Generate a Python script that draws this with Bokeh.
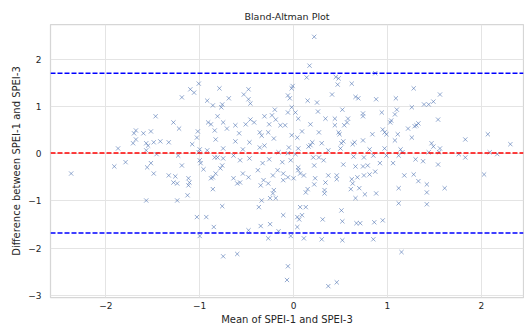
from bokeh.plotting import figure
from bokeh.models import Span, FixedTicker, CustomJSTickFormatter, ColumnDataSource
from bokeh.embed import file_html
from bokeh.resources import INLINE

# Mean of SPEI-1 and SPEI-3 (x) and their difference (y)
mean_vals = [
    0.22, 0.17, 0.87, 0.45, 0.48, 0.47, 0.62, 0.14, -0.01, -0.02, 1.28, 0.41, 0.66, 0.69, 0.88, 1.09,
    1.56, 1.49, 1.44, 1.39, 1.26, 0.15, 0.25, -0.06, -0.04, -0.02, -0.06, 0.02, 0.26, 0.52, 0.74, 0.74,
    0.94, 1.10, 1.08, 1.04, 1.03, 0.05, 0.34, 0.44, 0.58, 0.57, 0.54, 0.44, 1.54, 0.18, -0.09, 1.33,
    1.31, 1.29, 1.22, 0.95, 0.09, 0.27, 0.48, 0.49, 0.84, 0.97, 0.99, 1.11, 1.26, 2.07, 1.83, 2.31,
    -0.02, 0.04, 0.20, 0.30, 0.18, 0.16, 0.51, 0.53, 0.65, 0.63, 0.74, 1.08, 1.14, 1.47, 1.49, 1.56,
    -0.05, 0.05, 0.37, 0.50, 0.81, 0.97, -0.06, 0.02, 2.09, 2.17,
    -1.19, -1.10, -1.06, -1.01, -0.79, -0.69, -0.92, -0.86, -0.76, -0.77, -0.53, -0.48, -0.48, -0.46,
    -1.47, -1.28, -1.22, -0.91, -0.88, -0.81, -0.75, -0.84, -0.71, -0.62, -0.58, -0.51, -0.46, -0.42,
    -0.36, -0.34, -0.27, -0.31, -0.23, -0.26, -0.19, -0.20, -0.21, -0.31, -0.62, -0.83, -0.47, -0.36,
    -0.54, -0.75, -1.02, -1.03, -1.08, -1.68, -1.70, -1.60, -1.52, -1.68, -1.71, -1.57, -1.55, -1.49,
    -1.42, -1.33, -1.87, -1.00, -0.14,
    -2.37, -1.91, -1.79, -1.57, -1.46, -1.52, -1.56, -1.49, -1.33, -1.26, -1.24, -1.28, -1.19, -1.23,
    -1.12, -1.11, -1.12, -1.13, -1.24, -1.57, -1.00, -0.99, -0.96, -1.01, -0.84, -0.81, -0.75, -0.76,
    -0.78, -0.83, -0.86, -0.88, -0.86, -0.64, -0.57, -0.47, -0.54, -0.64, -0.60, -0.57, -0.48, -0.38,
    -0.33, -0.26, -0.35, -0.32, -0.27, -0.22, -0.21, -0.22, -0.19, -0.25, -0.34, -0.17, -0.12, -0.11,
    -0.11, -0.16, -0.92, -0.76, -1.03, -0.93, -0.85, -0.48, -0.35, -0.25, -0.37, -0.11, -0.16, -0.27,
    -1.00, -0.75, -0.60,
    0.64, 0.75, 0.85, 0.99, 1.12, 0.53, 0.66, 0.74, 0.79, 0.92, 1.06, 1.30, 1.38, 1.54, 1.83, 1.76,
    2.03, 1.18, 1.28, 1.33, 1.42, 1.42, 1.61, 1.12, 1.12, 1.42, 0.88, 0.76, 0.70, 0.66, 0.61, 0.63,
    0.62, 0.68, 0.75, 0.81, 0.87, 0.46, 0.46, 0.37, 0.34, 0.33, 0.33, 0.23, 0.22, 0.15, 0.13, 0.11,
    0.07, 0.00, -0.06, -0.03, 0.05, 0.05, 0.21, 0.27, 0.22, 0.32, 0.07, 0.13, 0.09, 0.04, 0.06, 0.31,
    0.51, 0.52, 0.67, 0.71, 0.86, 0.95, 0.04, -0.03, 0.11, 0.30, 0.52, 0.85, 1.15, -0.06, -0.07, 0.37,
    0.46, 1.16, 1.44, 1.55,
]
diff_vals = [
    2.47, 1.86, 1.70, 1.62, 1.59, 1.46, 1.48, 1.61, 1.43, 1.38, 1.38, 1.25, 1.20, 1.17, 1.15, 1.17,
    1.25, 1.10, 1.04, 1.04, 0.98, 1.12, 1.08, 1.23, 1.17, 0.98, 0.87, 0.87, 0.89, 0.93, 0.85, 0.79,
    0.87, 0.93, 0.83, 0.70, 0.66, 0.74, 0.74, 0.74, 0.74, 0.66, 0.60, 0.60, 0.72, 0.62, 0.60, 0.64,
    0.60, 0.58, 0.53, 0.51, 0.47, 0.45, 0.45, 0.41, 0.41, 0.45, 0.41, 0.41, 0.34, 0.41, 0.30, 0.20,
    0.39, 0.34, 0.24, 0.22, 0.18, 0.15, 0.22, 0.26, 0.24, 0.20, 0.28, 0.28, 0.09, 0.22, 0.15, 0.11,
    0.13, 0.11, 0.07, 0.11, 0.09, 0.11, 0.01, -0.01, 0.03, -0.01,
    1.19, 1.36, 1.29, 1.48, 1.38, 1.17, 1.12, 1.02, 1.04, 0.98, 1.25, 1.36, 1.15, 1.06,
    0.79, 0.66, 0.53, 0.66, 0.62, 0.79, 0.66, 0.49, 0.53, 0.60, 0.43, 0.62, 0.72, 0.66,
    0.45, 0.38, 0.45, 0.79, 0.81, 0.62, 0.72, 0.93, 0.32, 0.17, 0.26, 0.30, 0.24, 0.13,
    0.09, 0.11, 0.47, 0.34, 0.20, 0.49, 0.43, 0.43, 0.47, 0.30, 0.22, 0.22, 0.17, 0.24,
    0.26, 0.24, 0.11, 0.09, 0.60,
    -0.42, -0.27, -0.18, 0.07, -0.01, -0.20, -0.29, -0.42, -0.46, -0.48, -0.63, -0.61, -0.25, -0.04,
    -0.52, -0.61, -0.67, -0.88, -0.99, -0.99, -0.14, -0.20, -0.33, 0.03, -0.08, -0.08, -0.10, -0.25,
    -0.31, -0.42, -0.50, -0.52, -0.75, -0.04, -0.14, -0.10, -0.42, -0.52, -0.63, -0.61, -0.50, -0.35,
    -0.20, -0.12, -0.67, -0.56, -0.63, -0.46, -0.77, -0.84, -0.94, -0.94, -0.99, -0.35, -0.18, -0.42,
    -0.56, 0.03, 0.07, -1.11, -1.34, -1.34, -1.55, -1.62, -1.53, -1.49, -1.13, -1.30, -1.64, -1.79,
    -1.74, -2.17, -2.12,
    -0.06, -0.08, -0.04, -0.04, -0.04, -0.23, -0.27, -0.27, -0.25, -0.20, -0.20, -0.12, -0.16, -0.23, -0.08, -0.01,
    -0.44, -0.46, -0.44, -0.58, -0.65, -0.82, -0.73, -0.73, -1.05, -1.07, -0.84, -0.86, -0.73, -0.94, -0.75, -0.63,
    -0.54, -0.50, -0.46, -0.44, -0.38, -0.46, -0.54, -0.46, -0.61, -0.77, -0.84, -0.52, -0.65, -0.75, -0.82, -0.46,
    -0.42, -0.52, -0.50, -0.14, -0.29, -0.35, -0.08, -0.08, -0.25, -0.14, -1.13, -1.13, -1.30, -1.34, -1.39, -1.39,
    -1.20, -1.43, -1.47, -1.47, -1.45, -1.41, -1.55, -1.74, -1.79, -1.81, -1.83, -1.81, -2.08, -2.38, -2.67, -2.80,
    -2.72, 0.03, 0.03, 0.03,
]

mean_diff = 0.013
upper_loa = 1.70
lower_loa = -1.675

x_ticks = [-2, -1, 0, 1, 2]
y_ticks = [-3, -2, -1, 0, 1, 2]

n = min(len(mean_vals), len(diff_vals))
src = ColumnDataSource(dict(x=mean_vals[:n], y=diff_vals[:n]))

p = figure(width=524, height=327, output_backend="svg", toolbar_location=None,
           x_range=(-2.59, 2.45), y_range=(-3.04, 2.73),
           title="Bland-Altman Plot",
           min_border_left=50, min_border_right=1, min_border_top=24, min_border_bottom=30)

p.background_fill_color = "white"
p.border_fill_color = "white"
p.outline_line_color = "#d6d6d6"
p.outline_line_width = 1.25

p.title.align = "center"
p.title.text_font = "DejaVu Sans"
p.title.text_font_size = "9.5px"
p.title.text_font_style = "normal"
p.title.text_color = "#262626"
p.title.standoff = 6

p.scatter("x", "y", source=src, marker="x", size=6, line_color="#4c72b0",
          line_alpha=0.6, line_width=1)

p.add_layout(Span(location=mean_diff, dimension="width", line_color="#ff0000",
                  line_dash="5 2", line_width=1.5))
p.add_layout(Span(location=upper_loa, dimension="width", line_color="#0000ff",
                  line_dash="5 2", line_width=1.5))
p.add_layout(Span(location=lower_loa, dimension="width", line_color="#0000ff",
                  line_dash="5 2", line_width=1.5))

fmt = CustomJSTickFormatter(code="return String(tick).replace('-', '\u2212');")
p.xaxis.ticker = FixedTicker(ticks=x_ticks)
p.yaxis.ticker = FixedTicker(ticks=y_ticks)
for ax in (p.xaxis, p.yaxis):
    ax.formatter = fmt
    ax.axis_line_color = None
    ax.major_tick_line_color = None
    ax.minor_tick_line_color = None
    ax.major_tick_out = 0
    ax.major_tick_in = 0
    ax.major_label_text_font = "DejaVu Sans"
    ax.major_label_text_font_size = "9px"
    ax.major_label_text_color = "#262626"
    ax.axis_label_text_font = "DejaVu Sans"
    ax.axis_label_text_font_size = "10px"
    ax.axis_label_text_font_style = "normal"
    ax.axis_label_text_color = "#262626"
    ax.axis_label_standoff = 4

p.xaxis.axis_label = "Mean of SPEI-1 and SPEI-3"
p.yaxis.axis_label = "Difference between SPEI-1 and SPEI-3"
p.xaxis.major_label_standoff = 4
p.xaxis.axis_label_standoff = 2
p.yaxis.major_label_standoff = 9
p.yaxis.axis_label_standoff = 3

p.grid.grid_line_color = "#e4e4e4"
p.grid.grid_line_width = 1

open("out.html", "w").write(file_html(p, INLINE))
